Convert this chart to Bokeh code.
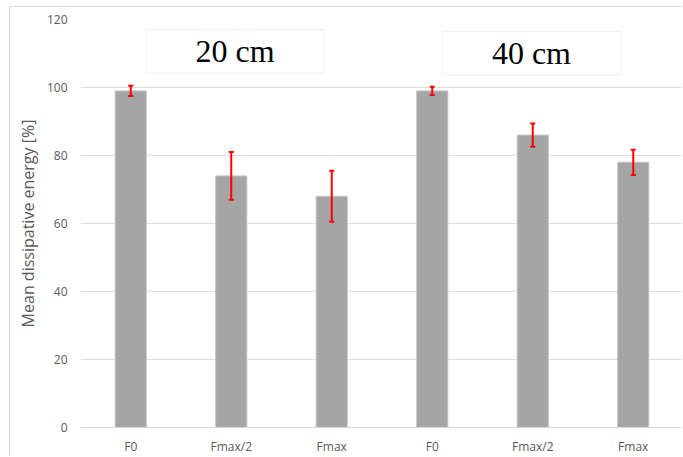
from bokeh.plotting import figure
from bokeh.models import (ColumnDataSource, Range1d, FixedTicker, Whisker, TeeHead,
                          BoxAnnotation, Label)
from bokeh.embed import file_html
from bokeh.resources import INLINE

# ---- data ----
categories = ["F0", "Fmax/2", "Fmax", "F0", "Fmax/2", "Fmax"]
values = [99, 74, 68, 99, 86, 78]
errors = [1.5, 7, 7.5, 1.2, 3.4, 3.7]
group_labels = ["20 cm", "40 cm"]
y_ticks = [0, 20, 40, 60, 80, 100, 120]

xs = list(range(len(categories)))
src = ColumnDataSource(dict(
    x=xs, top=values,
    upper=[v + e for v, e in zip(values, errors)],
    lower=[v - e for v, e in zip(values, errors)],
))

FONT = "Open Sans"
GREY_TXT = "#595959"

p = figure(width=673, height=450, output_backend="svg", toolbar_location=None,
           x_range=Range1d(-0.5, 5.5), y_range=Range1d(0, 120),
           min_border_left=70, min_border_right=0, min_border_top=12,
           min_border_bottom=30)
p.outline_line_color = None
p.background_fill_color = "white"
p.border_fill_color = "white"

p.vbar(x="x", top="top", width=0.31, source=src, fill_color="#a5a5a5",
       line_color="#c4c4c4", line_width=1)

w = Whisker(source=src, base="x", upper="upper", lower="lower",
            line_color="#ff0000", line_width=2, level="overlay",
            upper_head=TeeHead(size=5, line_color="#ff0000", line_width=2),
            lower_head=TeeHead(size=5, line_color="#ff0000", line_width=2))
p.add_layout(w)

# axes
p.xaxis.ticker = FixedTicker(ticks=xs)
p.xaxis.major_label_overrides = {i: c for i, c in enumerate(categories)}
p.xaxis.major_tick_out = 0
p.xaxis.major_tick_in = 0
p.xaxis.minor_tick_out = 0
p.xaxis.minor_tick_in = 0
p.xaxis.axis_line_color = "#d9d9d9"
p.xaxis.major_label_standoff = 10
p.xaxis.major_label_text_font = FONT
p.xaxis.major_label_text_font_size = "12px"
p.xaxis.major_label_text_color = GREY_TXT

p.yaxis.ticker = FixedTicker(ticks=y_ticks)
p.yaxis.major_tick_out = 0
p.yaxis.major_tick_in = 0
p.yaxis.minor_tick_out = 0
p.yaxis.minor_tick_in = 0
p.yaxis.axis_line_color = None
p.yaxis.major_label_standoff = 13
p.yaxis.major_label_text_font = FONT
p.yaxis.major_label_text_font_size = "12px"
p.yaxis.major_label_text_color = GREY_TXT
p.yaxis.axis_label = "Mean dissipative energy [%]"
p.yaxis.axis_label_text_font = FONT
p.yaxis.axis_label_text_font_size = "16px"
p.yaxis.axis_label_text_font_style = "normal"
p.yaxis.axis_label_text_color = GREY_TXT
p.yaxis.axis_label_standoff = 5

p.xgrid.grid_line_color = None
p.ygrid.grid_line_color = "#dedede"
p.ygrid.grid_line_width = 1

# group boxes (annotation layout)
box_specs = [(0.152, 1.925, 104.2, 117.0), (3.098, 4.876, 103.7, 116.5)]
for (l, r, b, t), txt in zip(box_specs, group_labels):
    p.add_layout(BoxAnnotation(left=l, right=r, bottom=b, top=t,
                               fill_color="white", fill_alpha=1,
                               line_color="#c8c8c8", line_width=1))
    p.add_layout(Label(x=(l + r) / 2, y=(b + t) / 2, text=txt,
                       text_font="Liberation Serif", text_font_size="32px",
                       text_color="black", text_align="center",
                       text_baseline="middle"))

p.styles = {"margin-left": "9px", "margin-top": "6px",
            "border-left": "1px solid #d9d9d9", "border-top": "1px solid #d9d9d9"}

open("out.html", "w").write(file_html(p, INLINE))
